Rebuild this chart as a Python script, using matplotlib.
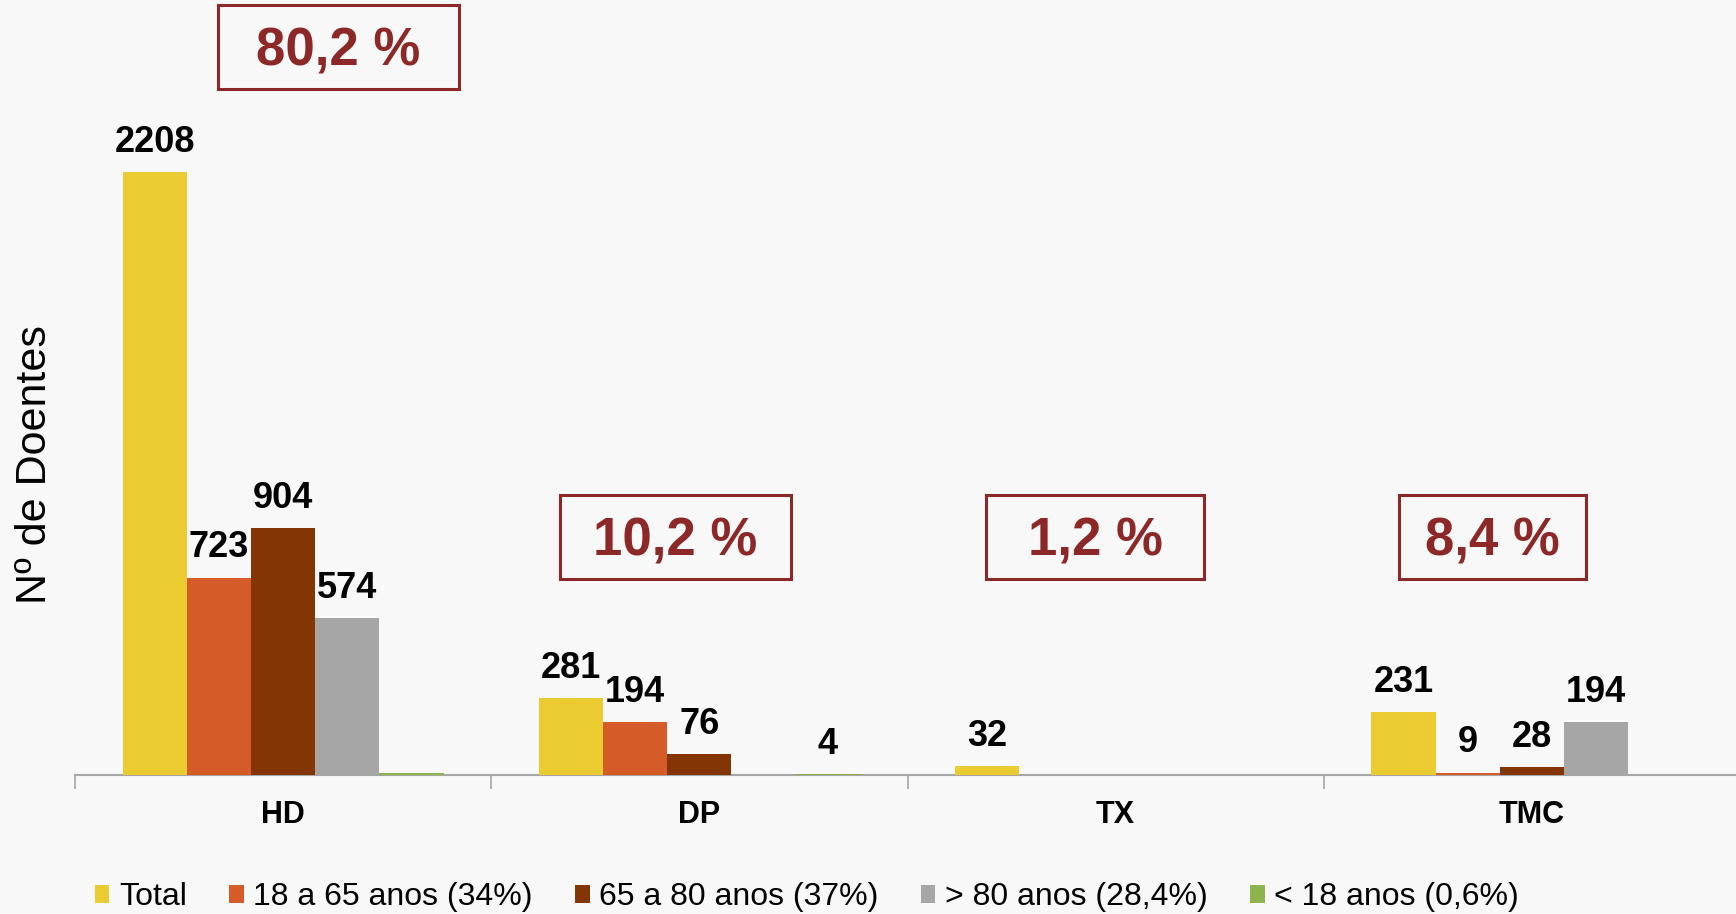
import matplotlib.pyplot as plt
import numpy as np
from matplotlib.patches import Rectangle

plt.rcParams['font.family'] = ['Liberation Sans', 'DejaVu Sans']

# dados
categorias = ["HD", "DP", "TX", "TMC"]
series = ["Total", "18 a 65 anos (34%)", "65 a 80 anos (37%)", "> 80 anos (28,4%)", "< 18 anos (0,6%)"]
total = [2208, 281, 32, 231]
idade_18_65 = [723, 194, np.nan, 9]
idade_65_80 = [904, 76, np.nan, 28]
idade_80 = [574, np.nan, np.nan, 194]
idade_18 = [7, 4, np.nan, np.nan]
mostrar_rotulo_18 = [False, True, False, False]
percentagens = ["80,2 %", "10,2 %", "1,2 %", "8,4 %"]

cores = ["#EBCB32", "#D55B29", "#843505", "#A6A6A6", "#8DB44B"]
fundo = "#F8F8F8"
vermelho = "#8C2828"

valores = [total, idade_18_65, idade_65_80, idade_80, idade_18]

fig = plt.figure(figsize=(17.36, 9.14), dpi=100, facecolor=fundo)
W, H = 1736, 914
ax = fig.add_axes([75 / W, 1 - 775 / H, 1665 / W, 775 / H])
ax.set_facecolor(fundo)

x = np.arange(len(categorias))
largura = 0.1543
handles = []
for i, (nome, vals, cor) in enumerate(zip(series, valores, cores)):
    pos = x + (i - 2) * largura
    b = ax.bar(pos, vals, width=largura, color=cor, label=nome, linewidth=0, zorder=3)
    handles.append(b)
    for j, v in enumerate(vals):
        if np.isnan(v):
            continue
        if i == 4 and not mostrar_rotulo_18[j]:
            continue
        ax.annotate(f"{int(v)}", (pos[j], v), xytext=(0, 14.5), textcoords="offset points",
                    ha="center", va="baseline", fontsize=26, fontweight="bold", color="black")

ax.set_xlim(-0.5, 3.5)
ax.set_ylim(0, 2838)
ax.set_yticks([])
for s in ["left", "right", "top"]:
    ax.spines[s].set_visible(False)
ax.spines["bottom"].set_color("#A6A6A6")
ax.spines["bottom"].set_linewidth(1.5)

ax.set_xticks(x)
ax.set_xticklabels(categorias, fontsize=22, fontweight="bold")
ax.tick_params(axis="x", which="major", length=0, pad=18)
ax.set_xticks(np.arange(-0.5, 4.0, 1.0), minor=True)
ax.tick_params(axis="x", which="minor", length=10, width=1.2, color="#A6A6A6")

fig.text(35 / W, 1 - 465 / H, "Nº de Doentes", rotation=90, fontsize=31,
         ha="center", va="center")

# caixas de percentagem (centro x, centro y, largura, altura em px)
caixas = [(338, 47, 241, 84), (675, 537, 231, 84), (1095, 537, 217, 84), (1492, 537, 187, 84)]
for txt, (cx, cy, bw, bh) in zip(percentagens, caixas):
    fig.patches.append(Rectangle(((cx - bw / 2) / W, 1 - (cy + bh / 2) / H), bw / W, bh / H,
                                 transform=fig.transFigure, fill=False,
                                 edgecolor=vermelho, linewidth=2.2))
    fig.text(cx / W, 1 - (cy + 4) / H, txt, ha="center", va="center", fontsize=38,
             fontweight="bold", color=vermelho)

fig.legend(handles=handles, labels=series, loc="center left",
           bbox_to_anchor=(95 / W, 1 - 897 / H), ncol=5, frameon=False, fontsize=23,
           handlelength=0.45, handleheight=0.5, handletextpad=0.3, columnspacing=1.33,
           borderaxespad=0, borderpad=0)

fig.savefig("out.png", dpi=100, facecolor=fundo)
